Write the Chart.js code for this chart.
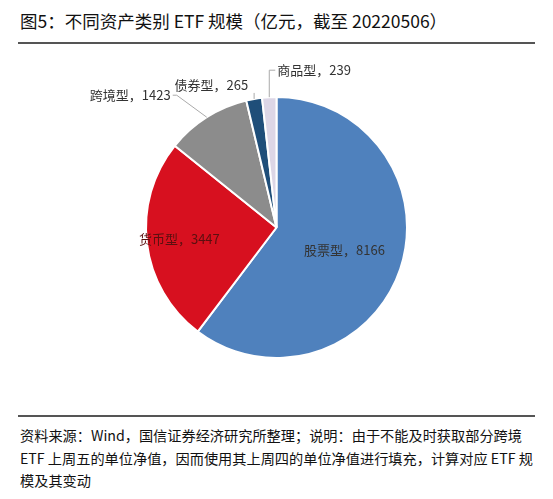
<!DOCTYPE html>
<html><head><meta charset="utf-8">
<script src="https://cdn.jsdelivr.net/npm/chart.js@4"></script>
<style>
body{margin:0;width:553px;height:499px;background:#fff;font-family:"Noto Sans CJK SC","Noto Sans",sans-serif;position:relative;overflow:hidden}
#title{position:absolute;left:20px;top:8px;font-size:17.5px;color:#111;white-space:nowrap}
.rule{position:absolute;left:18px;width:517px;height:1.5px;background:#555}
#note{position:absolute;left:20px;top:424px;font-size:14.2px;line-height:22.5px;color:#111;width:520px}
#wrap{position:absolute;left:0;top:50px;width:553px;height:355px}
</style></head><body>
<div id="title">图5：不同资产类别 ETF 规模（亿元，截至 20220506）</div>
<div class="rule" style="top:42px"></div>
<div id="wrap"><canvas id="c"></canvas></div>
<div class="rule" style="top:415px"></div>
<div id="note">资料来源：Wind，国信证券经济研究所整理；说明：由于不能及时获取部分跨境 ETF 上周五的单位净值，因而使用其上周四的单位净值进行填充，计算对应 ETF 规模及其变动</div>
<script>
const categories=["股票型","货币型","跨境型","债券型","商品型"];
const values=[8166,3447,1423,265,239];
const colors=["#4f81bd","#d7101f","#8c8c8c","#1f4e79","#dcd6e6"];
const labelPlugin={id:"lbl",afterDatasetsDraw(chart){
  const ctx=chart.ctx;const arcs=chart.getDatasetMeta(0).data;
  ctx.save();ctx.font='13px "Noto Sans CJK SC"';ctx.textBaseline="middle";
  // inside: offsets relative to arc mid; outside: leader lines
  const cfg=[{in:true,f:0.55},{in:true,f:0.75},{in:false,dx:-30,dy:-22,align:"right"},{in:false,dx:-8,dy:-22,align:"right"},{in:false,dx:8,dy:-27,align:"left"}];
  arcs.forEach((a,i)=>{
    const mid=(a.startAngle+a.endAngle)/2;const c=cfg[i];const txt=categories[i]+"，"+values[i];
    if(c.in){const r=a.outerRadius*c.f;ctx.fillStyle=i==1?"#5a1010":"#333";ctx.textAlign="center";
      ctx.fillText(txt,a.x+Math.cos(mid)*r,a.y+Math.sin(mid)*r);}
    else{const ex=a.x+Math.cos(mid)*a.outerRadius,ey=a.y+Math.sin(mid)*a.outerRadius;
      const kx=ex+c.dx*(i==2?1:0.3),ky=ey+c.dy;
      ctx.strokeStyle="#aaa";ctx.lineWidth=1;ctx.beginPath();ctx.moveTo(ex,ey);
      if(i==4){ctx.lineTo(ex,ky);ctx.lineTo(ex+6,ky);}else if(i==3){ctx.lineTo(ex,ey-6);}else{ctx.lineTo(kx,ky);ctx.lineTo(kx-4,ky);}
      ctx.stroke();ctx.fillStyle="#333";ctx.textAlign=c.align;
      if(i==4)ctx.fillText(txt,ex+8,ky);else if(i==3)ctx.fillText(txt,ex-6,ey-14);else ctx.fillText(txt,kx-6,ky);}
  });ctx.restore();}};
new Chart(document.getElementById("c"),{type:"pie",
 data:{labels:categories,datasets:[{data:values,backgroundColor:colors,borderColor:"#fff",borderWidth:2}]},
 options:{responsive:true,maintainAspectRatio:false,animation:false,layout:{padding:{top:46,bottom:46}},
  plugins:{legend:{display:false},tooltip:{enabled:false}}},plugins:[labelPlugin]});
</script></body></html>
